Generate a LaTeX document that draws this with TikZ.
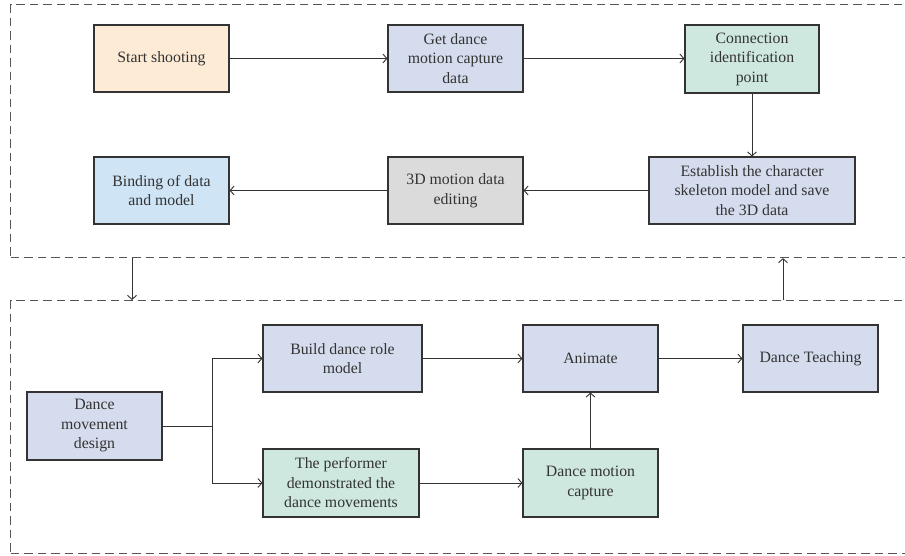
\documentclass[tikz,border=0pt]{standalone}
\usepackage{fontspec}
\setmainfont{Liberation Serif}
\usetikzlibrary{arrows.meta}
\definecolor{corange}{HTML}{FDEBD6}
\definecolor{cblue}{HTML}{D4DCED}
\definecolor{cgreen}{HTML}{CFE8DF}
\definecolor{cgrey}{HTML}{DBDBDB}
\definecolor{clight}{HTML}{CFE4F5}
\definecolor{boxline}{HTML}{333333}
\definecolor{txt}{HTML}{333333}
\definecolor{dashc}{HTML}{555555}
\begin{document}
\begin{tikzpicture}[x=1pt,y=-1pt,
  box/.style={draw=boxline, line width=1.1pt, align=center, inner sep=0pt, text=txt,
    font=\fontsize{15.8}{19.5}\selectfont},
  arr/.style={draw=boxline, line width=0.9pt, -{Straight Barb[length=4pt,width=9pt,line width=0.9pt]}},
  group/.style={draw=dashc, line width=1.1pt, dash pattern=on 8.5pt off 5pt, inner sep=0pt}]
\useasboundingbox (0,0) rectangle (905,556);
% groups
\node[group, minimum width=920pt, minimum height=253pt, anchor=north west] (topgrp) at (10,4) {};
\node[group, minimum width=920pt, minimum height=253pt, anchor=north west] (botgrp) at (10,300) {};
% top boxes
\node[box, fill=corange, minimum width=135pt, minimum height=67pt] (start) at (161.5,58.5) {Start shooting};
\node[box, fill=cblue, minimum width=135pt, minimum height=67pt] (get) at (455.5,58.5) {Get dance\\motion capture\\data};
\node[box, fill=cgreen, minimum width=134pt, minimum height=68pt] (conn) at (752,59) {Connection\\identification\\point};
\node[box, fill=cblue, minimum width=206pt, minimum height=67pt] (est) at (752,190.5) {Establish the character\\skeleton model and save\\the 3D data};
\node[box, fill=cgrey, minimum width=135pt, minimum height=67pt] (edit) at (455.5,190.5) {3D motion data\\editing};
\node[box, fill=clight, minimum width=135pt, minimum height=67pt] (bind) at (161.5,190.5) {Binding of data\\and model};
% bottom boxes
\node[box, fill=cblue, minimum width=135pt, minimum height=68pt] (design) at (94.5,426) {Dance\\movement\\design};
\node[box, fill=cblue, minimum width=159pt, minimum height=67pt] (build) at (342.5,358.5) {Build dance role\\model};
\node[box, fill=cgreen, minimum width=156pt, minimum height=68pt] (perf) at (341,483) {The performer\\demonstrated the\\dance movements};
\node[box, fill=cblue, minimum width=135pt, minimum height=67pt] (anim) at (590.5,358.5) {Animate};
\node[box, fill=cblue, minimum width=135pt, minimum height=67pt] (teach) at (810.5,358.5) {Dance Teaching};
\node[box, fill=cgreen, minimum width=135pt, minimum height=68pt] (cap) at (590.5,483) {Dance motion\\capture};
% arrows top
\draw[arr] (start.east) -- (get.west);
\draw[arr] (get.east) -- (conn.west |- get.east);
\draw[arr] (conn.south) -- (est.north);
\draw[arr] (est.west) -- (edit.east);
\draw[arr] (edit.west) -- (bind.east);
% between groups
\draw[arr] ([xshift=122pt]topgrp.south west) -- ([xshift=122pt]botgrp.north west);
\draw[arr] ([xshift=773pt]botgrp.north west) -- ([xshift=773pt]topgrp.south west);
% bottom arrows
\draw[arr] (design.east) -- ++(50pt,0) |- (build.west);
\draw[arr] (design.east) -- ++(50pt,0) |- (perf.west);
\draw[arr] (build.east) -- (anim.west);
\draw[arr] (perf.east) -- (cap.west);
\draw[arr] (cap.north) -- (anim.south);
\draw[arr] (anim.east) -- (teach.west);
\end{tikzpicture}
\end{document}
